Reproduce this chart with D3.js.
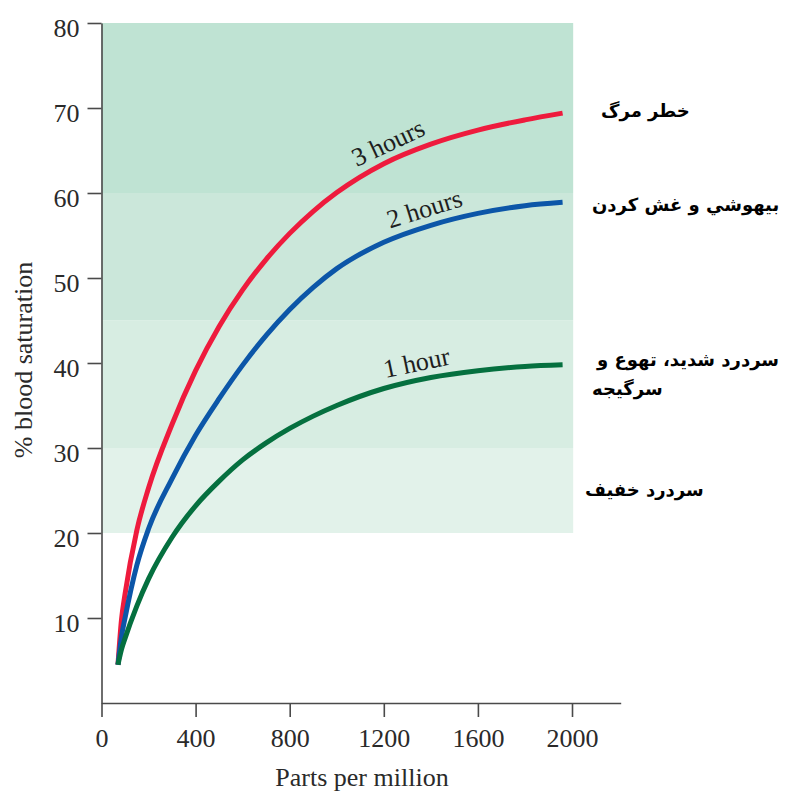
<!DOCTYPE html>
<html>
<head>
<meta charset="utf-8">
<script src="https://cdn.jsdelivr.net/npm/d3@7"></script>
<style>
  body { margin: 0; background: #fff; }
</style>
</head>
<body>
<script>
// Carbon monoxide exposure vs blood saturation
const ppm = [70, 85, 100, 150, 200, 300, 400, 500, 600, 700, 800, 900, 1000, 1200, 1400, 1600, 1800, 1960];
const threeHours = [4.5, 9.8, 12.8, 20.3, 25.3, 32.8, 39.1, 44.3, 48.6, 52.2, 55.25, 57.85, 60.05, 63.45, 65.75, 67.4, 68.6, 69.4];
const twoHours = [4.5, 7.8, 10, 16.2, 20.5, 26.4, 31.5, 35.8, 39.75, 43.25, 46.3, 48.9, 51.1, 54.2, 56.2, 57.6, 58.5, 58.9];
const oneHour = [4.5, 6.3, 7.6, 11.4, 14.6, 19.5, 23.2, 26.1, 28.6, 30.6, 32.3, 33.75, 35, 37, 38.3, 39.1, 39.6, 39.8];

const seriesNames = ["3 hours", "2 hours", "1 hour"];
const seriesColors = ["#ee1b3d", "#0c56a8", "#05703f"];
const labelAt = [1250, 1395, 1355]; // ppm where each curve label sits

// Shaded effect bands
const bandLow = [20, 30, 45, 60];
const bandHigh = [30, 45, 60, 80];
const bandColors = ["#e2f2ea", "#d7ede2", "#cbe7da", "#bfe3d3"];
const bandEnd = 2005;

// Effect labels (Persian) on the right
const effectLines = [["خطر مرگ"], ["بيهوشي و غش کردن"], ["سردرد شدید، تهوع و", "سرگیجه"], ["سردرد خفیف"]];
const effectLevel = [69.6, 58.6, 40.3, 25.1];
const effectX = [601, 592, 597, 585];

const xTicks = [0, 400, 800, 1200, 1600, 2000];
const yTicks = [10, 20, 30, 40, 50, 60, 70, 80];

const width = 790;
const height = 792;

const x = d3.scaleLinear().domain([0, 2207]).range([101.5, 620.7]);
const y = d3.scaleLinear().domain([0, 80]).range([703, 23]);

const svg = d3.select("body").append("svg")
  .attr("width", width)
  .attr("height", height)
  .style("font-family", "'Liberation Serif', 'Times New Roman', serif");

// bands
svg.append("g")
  .selectAll("rect")
  .data(bandLow)
  .join("rect")
  .attr("x", x(0))
  .attr("y", (d, i) => y(bandHigh[i]))
  .attr("width", x(bandEnd) - x(0))
  .attr("height", (d, i) => y(d) - y(bandHigh[i]))
  .attr("fill", (d, i) => bandColors[i]);

// axes
const xAxis = svg.append("g")
  .attr("transform", `translate(0,${y(0)})`)
  .call(d3.axisBottom(x).tickValues(xTicks).tickFormat(d3.format("d"))
    .tickSize(14).tickSizeOuter(0).tickPadding(12));

const yAxis = svg.append("g")
  .attr("transform", `translate(${x(0)},0)`)
  .call(d3.axisLeft(y).tickValues(yTicks).tickFormat(d3.format("d"))
    .tickSize(14).tickSizeOuter(0).tickPadding(8));

[xAxis, yAxis].forEach(g => {
  g.attr("font-family", null).attr("font-size", null);
  g.select(".domain").attr("stroke", "#4a4a4a").attr("stroke-width", 1.6);
  g.selectAll(".tick line").attr("stroke", "#4a4a4a").attr("stroke-width", 1.6);
  g.selectAll(".tick text").attr("fill", "#2a2a2a").style("font-size", "26px");
});
yAxis.selectAll(".tick text").attr("dy", "0.5em");

// curves
const series = [threeHours, twoHours, oneHour];
const line = d3.line()
  .x((d, i) => x(ppm[i]))
  .y(d => y(d))
  .curve(d3.curveMonotoneX);

svg.append("g")
  .selectAll("path")
  .data(series)
  .join("path")
  .attr("d", line)
  .attr("fill", "none")
  .attr("stroke", (d, i) => seriesColors[i])
  .attr("stroke-width", 5);

// curve labels, rotated along the curve
function valueAt(values, p) {
  const i = d3.bisectRight(ppm, p) - 1;
  const t = (p - ppm[i]) / (ppm[i + 1] - ppm[i]);
  return values[i] + t * (values[i + 1] - values[i]);
}

series.forEach((values, i) => {
  const p = labelAt[i];
  const px = x(p), py = y(valueAt(values, p));
  const dx = x(p + 100) - x(p - 100);
  const dy = y(valueAt(values, p + 100)) - y(valueAt(values, p - 100));
  const angle = Math.atan2(dy, dx) * 180 / Math.PI;
  svg.append("text")
    .attr("transform", `translate(${px},${py}) rotate(${angle})`)
    .attr("y", -9)
    .attr("text-anchor", "middle")
    .attr("fill", "#1e1e1e")
    .style("font-size", "26px")
    .text(seriesNames[i]);
});

// effect labels
effectLines.forEach((lines, i) => {
  lines.forEach((t, j) => {
    svg.append("text")
      .attr("x", effectX[i] + (j > 0 ? -5 : 0))
      .attr("y", y(effectLevel[i]) + 6 + j * 29)
      .attr("fill", "#000")
      .style("font-family", "'DejaVu Sans', sans-serif")
      .style("font-weight", "bold")
      .style("font-size", "18px")
      .text(t);
  });
});

// axis titles
svg.append("text")
  .attr("x", 362)
  .attr("y", 786)
  .attr("text-anchor", "middle")
  .attr("fill", "#2a2a2a")
  .style("font-size", "26px")
  .text("Parts per million");

svg.append("text")
  .attr("transform", "translate(32,360) rotate(-90)")
  .attr("text-anchor", "middle")
  .attr("fill", "#2a2a2a")
  .style("font-size", "26px")
  .text("% blood saturation");
</script>
</body>
</html>
